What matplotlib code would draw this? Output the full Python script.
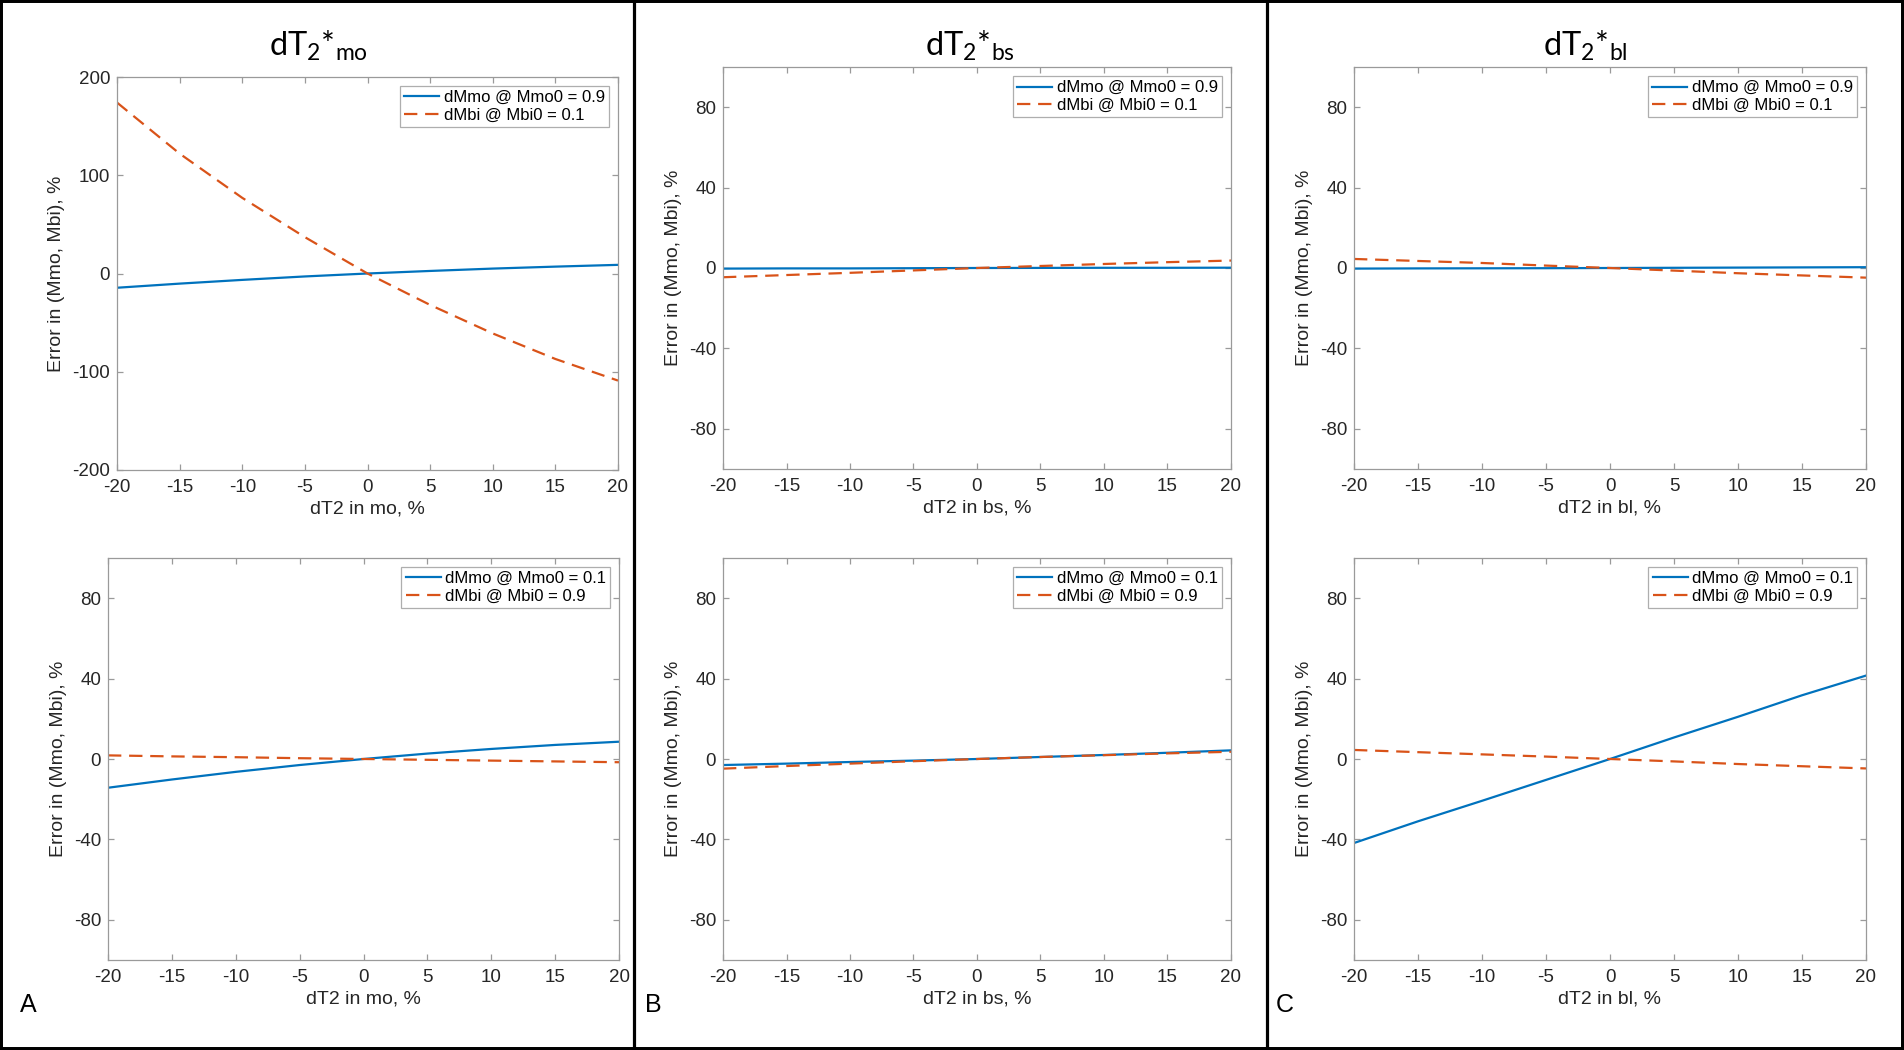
import numpy as np
import matplotlib.pyplot as plt
from matplotlib.patches import Rectangle
from matplotlib.lines import Line2D

plt.rcParams['font.family'] = ['Liberation Sans', 'DejaVu Sans']
plt.rcParams['mathtext.default'] = 'regular'
plt.rcParams['axes.unicode_minus'] = False

W, H = 1904, 1050
BLUE = '#0072BD'
ORANGE = '#D95319'
GREY = '#9a9a9a'
TXT = '#262626'

x = [-20, -15, -10, -5, 0, 5, 10, 15, 20]

# column A (mo)
a_top_mmo = [-14.5, -10.3, -6.5, -3.0, 0, 2.6, 5.0, 7.0, 8.8]
a_top_mbi = [174, 122, 77, 37, 0, -32, -61, -87, -109]
a_bot_mmo = [-14.3, -10.2, -6.4, -3.0, 0, 2.7, 5.0, 7.0, 8.6]
a_bot_mbi = [1.8, 1.3, 0.9, 0.4, 0, -0.4, -0.8, -1.2, -1.6]

# column B (bs)
b_top_mmo = [-0.3, -0.2, -0.2, -0.1, 0, 0.05, 0.1, 0.1, 0.15]
b_top_mbi = [-4.6, -3.5, -2.4, -1.2, 0, 1.0, 2.0, 2.9, 3.7]
b_bot_mmo = [-3.0, -2.3, -1.5, -0.8, 0, 1.0, 2.0, 3.1, 4.3]
b_bot_mbi = [-4.8, -3.5, -2.3, -1.1, 0, 1.0, 1.9, 2.8, 3.6]

# column C (bl)
c_top_mmo = [-0.3, -0.2, -0.15, -0.1, 0, 0.1, 0.2, 0.3, 0.4]
c_top_mbi = [4.5, 3.5, 2.5, 1.2, 0, -1.3, -2.6, -3.7, -4.8]
c_bot_mmo = [-41.8, -31.0, -20.8, -10.4, 0, 10.7, 21.0, 31.7, 41.5]
c_bot_mbi = [4.5, 3.4, 2.3, 1.2, 0, -1.2, -2.5, -3.6, -4.7]

top_labels = ['dMmo @ Mmo0 = 0.9', 'dMbi @ Mbi0 = 0.1']
bot_labels = ['dMmo @ Mmo0 = 0.1', 'dMbi @ Mbi0 = 0.9']
xlabels = ['dT2 in mo, %', 'dT2 in bs, %', 'dT2 in bl, %']
titles = [r'dT$_2$*$_{mo}$', r'dT$_2$*$_{bs}$', r'dT$_2$*$_{bl}$']
letters = ['A', 'B', 'C']

# axes boxes in pixels: x0, x1, y0 (top), y1 (bottom)
boxes = [
    [(117, 618, 77, 470), (108, 619, 558, 960)],
    [(723, 1231, 67, 469), (723, 1231, 558, 960)],
    [(1354, 1866, 67, 469), (1354, 1866, 558, 960)],
]
series = [
    [(a_top_mmo, a_top_mbi), (a_bot_mmo, a_bot_mbi)],
    [(b_top_mmo, b_top_mbi), (b_bot_mmo, b_bot_mbi)],
    [(c_top_mmo, c_top_mbi), (c_bot_mmo, c_bot_mbi)],
]
title_x = [318, 970, 1585]
letter_x = [20, 645, 1276]


def px_axes(fig, box):
    x0, x1, y0, y1 = box
    return fig.add_axes([x0 / W, 1 - y1 / H, (x1 - x0) / W, (y1 - y0) / H])


fig = plt.figure(figsize=(W / 100, H / 100), dpi=100)

for col in range(3):
    for row in range(2):
        ax = px_axes(fig, boxes[col][row])
        mmo, mbi = series[col][row]
        labels = top_labels if row == 0 else bot_labels
        ax.plot(x, mmo, color=BLUE, lw=1.6, label=labels[0])
        ax.plot(x, mbi, color=ORANGE, lw=1.6, dashes=(6, 3.5), label=labels[1])
        ax.set_xlim(-20, 20)
        ax.set_xticks(np.arange(-20, 21, 5))
        if col == 0 and row == 0:
            ax.set_ylim(-200, 200)
            ax.set_yticks([-200, -100, 0, 100, 200])
        else:
            ax.set_ylim(-100, 100)
            ax.set_yticks([-80, -40, 0, 40, 80])
        for s in ax.spines.values():
            s.set_color(GREY)
            s.set_linewidth(0.9)
        ax.tick_params(direction='in', length=4, width=0.9, color=GREY,
                       labelcolor=TXT, labelsize=13.5, top=True, right=True)
        ax.tick_params(axis='x', pad=6.5)
        ax.tick_params(axis='y', pad=5)
        ax.set_xlabel(xlabels[col], fontsize=14, color=TXT, labelpad=3)
        ax.set_ylabel('Error in (Mmo, Mbi), %', fontsize=14, color=TXT, labelpad=5)
        leg = ax.legend(loc='upper right', fontsize=12, frameon=True, fancybox=False,
                        borderaxespad=0.55, borderpad=0.25, labelspacing=0.15,
                        handlelength=2.1, handletextpad=0.25)
        leg.get_frame().set_edgecolor(GREY)
        leg.get_frame().set_linewidth(0.9)

    fig.text(title_x[col] / W, 1 - 46 / H, titles[col], family=['Lato', 'DejaVu Sans'],
             fontsize=23.5, ha='center', va='center', color='black')
    fig.text(letter_x[col] / W, 1 - 1005 / H, letters[col], fontsize=18,
             ha='left', va='center', color='black')

# black frames around the three panels
fig.add_artist(Rectangle((0, 0), 1, 1, transform=fig.transFigure, fill=False,
                         edgecolor='black', lw=4.3))
for xd in [634, 1267]:
    fig.add_artist(Line2D([xd / W, xd / W], [0, 1], transform=fig.transFigure,
                          color='black', lw=2.3))

fig.savefig('out.png', dpi=100)
